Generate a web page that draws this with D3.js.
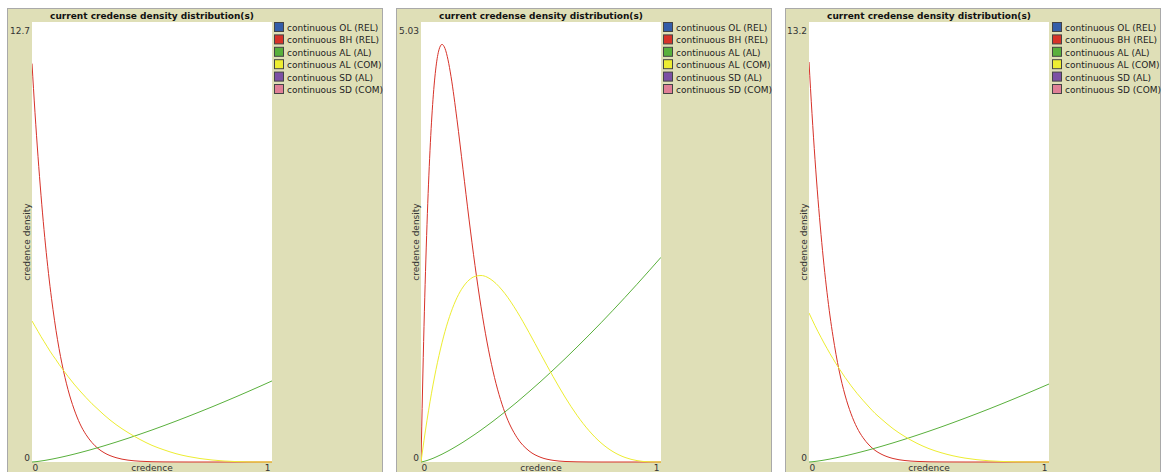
<!DOCTYPE html>
<html>
<head>
<meta charset="utf-8">
<script src="https://cdn.jsdelivr.net/npm/d3@7"></script>
<style>
  html, body { margin: 0; padding: 0; background: #ffffff; }
  svg { display: block; font-family: "DejaVu Sans", sans-serif; }
</style>
</head>
<body>
<svg id="chart" width="1161" height="472"></svg>
<script>
// Shared credence grid (x values of every density curve)
const credence = [0, 0.0125, 0.025, 0.0375, 0.05, 0.0625, 0.075, 0.0875, 0.1, 0.1125, 0.125,
  0.15, 0.175, 0.2, 0.225, 0.25, 0.275, 0.3, 0.35, 0.4, 0.45, 0.5, 0.55, 0.6, 0.65, 0.7,
  0.75, 0.8, 0.85, 0.9, 0.95, 1];

// Legend entries
const seriesNames = ["continuous OL (REL)", "continuous BH (REL)", "continuous AL (AL)",
  "continuous AL (COM)", "continuous SD (AL)", "continuous SD (COM)"];
const seriesColors = ["#345da9", "#d73229", "#59b03c", "#eded31", "#7c50a4", "#e07f96"];

// Y-axis maxima shown on each plot
const yMaxima = [12.7, 5.03, 13.2];
const yMaxLabels = ["12.7", "5.03", "13.2"];
const xTickLabels = ["0", "1"];

// Plot 1 densities
const bhRel1 = [11.5, 10.08, 8.82, 7.70, 6.71, 5.84, 5.07, 4.40, 3.80, 3.28, 2.83, 2.09, 1.53,
  1.10, 0.79, 0.56, 0.39, 0.27, 0.125, 0.054, 0.022, 0.008, 0.003, 0.001, 0, 0, 0, 0, 0, 0, 0, 0];
const alAl1 = [0, 0.007, 0.017, 0.029, 0.042, 0.057, 0.073, 0.089, 0.107, 0.125, 0.144, 0.184,
  0.226, 0.271, 0.317, 0.365, 0.415, 0.466, 0.573, 0.685, 0.803, 0.924, 1.050, 1.180, 1.314,
  1.451, 1.591, 1.735, 1.882, 2.032, 2.185, 2.34];
const alCom1 = [4.07, 3.92, 3.77, 3.62, 3.48, 3.34, 3.20, 3.07, 2.95, 2.82, 2.70, 2.47, 2.25,
  2.05, 1.86, 1.68, 1.52, 1.36, 1.08, 0.85, 0.65, 0.48, 0.35, 0.24, 0.16, 0.10, 0.058, 0.029,
  0.012, 0.003, 0.0004, 0];

// Plot 2 densities
const bhRel2 = [0, 1.551, 2.717, 3.563, 4.147, 4.517, 4.714, 4.774, 4.727, 4.598, 4.408, 3.913,
  3.347, 2.777, 2.246, 1.774, 1.372, 1.039, 0.561, 0.279, 0.127, 0.052, 0.019, 0.006, 0.002,
  0.0005, 0, 0, 0, 0, 0, 0];
const alAl2 = [0, 0.007, 0.017, 0.029, 0.042, 0.057, 0.073, 0.089, 0.107, 0.125, 0.144, 0.184,
  0.226, 0.271, 0.317, 0.365, 0.415, 0.466, 0.573, 0.685, 0.803, 0.924, 1.050, 1.180, 1.314,
  1.451, 1.591, 1.735, 1.882, 2.032, 2.185, 2.34];
const alCom2 = [0, 0.248, 0.477, 0.688, 0.881, 1.058, 1.218, 1.363, 1.493, 1.609, 1.711, 1.879,
  2.000, 2.080, 2.122, 2.132, 2.114, 2.070, 1.924, 1.720, 1.481, 1.228, 0.978, 0.743, 0.534,
  0.358, 0.219, 0.118, 0.052, 0.016, 0.002, 0];

// Plot 3 densities
const bhRel3 = [12, 10.45, 9.08, 7.88, 6.83, 5.90, 5.09, 4.38, 3.77, 3.23, 2.76, 2.01, 1.45,
  1.03, 0.73, 0.51, 0.35, 0.24, 0.105, 0.044, 0.017, 0.006, 0.002, 0.0005, 0, 0, 0, 0, 0, 0, 0, 0];
const alAl3 = [0, 0.007, 0.017, 0.029, 0.042, 0.057, 0.073, 0.089, 0.107, 0.125, 0.144, 0.184,
  0.226, 0.271, 0.317, 0.365, 0.415, 0.466, 0.573, 0.685, 0.803, 0.924, 1.050, 1.180, 1.314,
  1.451, 1.591, 1.735, 1.882, 2.032, 2.185, 2.34];
const alCom3 = [4.47, 4.28, 4.09, 3.91, 3.74, 3.57, 3.41, 3.25, 3.10, 2.95, 2.81, 2.54, 2.29,
  2.06, 1.85, 1.65, 1.46, 1.30, 1.00, 0.76, 0.56, 0.40, 0.28, 0.186, 0.117, 0.069, 0.036,
  0.017, 0.006, 0.0015, 0, 0];

// Series per plot, in legend order (empty = nothing plotted)
const plots = [
  [[], bhRel1, alAl1, alCom1, [], []],
  [[], bhRel2, alAl2, alCom2, [], []],
  [[], bhRel3, alAl3, alCom3, [], []]
];

const svg = d3.select("#chart");
const panelLefts = [7, 396, 785];
const panelW = 375, panelTop = 8, panelH = 480;
const plotOffset = [25, 25, 24], plotW = 240, plotTop = 22, plotBottom = 462;

plots.forEach((series, i) => {
  const px = panelLefts[i];
  const g = svg.append("g");

  g.append("rect")
    .attr("x", px + 0.5).attr("y", panelTop + 0.5)
    .attr("width", panelW).attr("height", panelH)
    .attr("fill", "#dfdfb7").attr("stroke", "#a9a9a9");

  const left = px + plotOffset[i];
  const x = d3.scaleLinear().domain([0, 1]).range([left, left + plotW]);
  const y = d3.scaleLinear().domain([0, yMaxima[i]]).range([plotBottom, plotTop]);

  g.append("rect")
    .attr("x", left).attr("y", plotTop)
    .attr("width", plotW).attr("height", plotBottom - plotTop)
    .attr("fill", "#ffffff");

  // title
  g.append("text")
    .attr("x", left + plotW / 2).attr("y", 19)
    .attr("text-anchor", "middle")
    .attr("font-size", 9).attr("font-weight", "bold").attr("fill", "#111")
    .text("current credense density distribution(s)");

  // y axis (max and zero only)
  const yAxis = g.append("g")
    .attr("transform", `translate(${left},0)`)
    .call(d3.axisLeft(y).tickValues([0, yMaxima[i]])
      .tickFormat((d, k) => k === 0 ? "0" : yMaxLabels[i]).tickSize(0).tickPadding(2));
  yAxis.select(".domain").remove();
  yAxis.selectAll("text")
    .attr("font-size", 9).attr("font-family", "DejaVu Sans, sans-serif").attr("fill", "#333")
    .attr("dy", (d) => d === 0 ? "-2" : "11");

  // x axis (0 and 1 only)
  const xAxis = g.append("g")
    .attr("transform", `translate(0,${plotBottom})`)
    .call(d3.axisBottom(x).tickValues([0, 1])
      .tickFormat((d, k) => xTickLabels[k]).tickSize(0).tickPadding(0));
  xAxis.select(".domain").remove();
  xAxis.selectAll("text")
    .attr("font-size", 9).attr("font-family", "DejaVu Sans, sans-serif").attr("fill", "#333")
    .attr("y", 9).attr("dy", 0)
    .attr("text-anchor", (d) => d === 0 ? "start" : "end")
    .attr("dx", (d) => d === 0 ? "0" : "-2");

  g.append("text")
    .attr("x", left + plotW / 2).attr("y", plotBottom + 9)
    .attr("text-anchor", "middle").attr("font-size", 9).attr("fill", "#333")
    .text("credence");

  g.append("text")
    .attr("transform", `translate(${left - 2},${(plotTop + plotBottom) / 2}) rotate(-90)`)
    .attr("text-anchor", "middle").attr("font-size", 9).attr("fill", "#333")
    .text("credence density");

  // curves
  const clipId = "clip" + i;
  g.append("clipPath").attr("id", clipId)
    .append("rect").attr("x", left).attr("y", plotTop)
    .attr("width", plotW).attr("height", plotBottom - plotTop + 1);

  const line = d3.line()
    .x((d, k) => x(credence[k]))
    .y((d) => y(d))
    .curve(d3.curveMonotoneX);

  const curves = g.append("g").attr("clip-path", `url(#${clipId})`);
  series.forEach((vals, s) => {
    if (!vals.length) return;
    curves.append("path")
      .attr("d", line(vals))
      .attr("fill", "none")
      .attr("stroke", seriesColors[s])
      .attr("stroke-width", 1);
  });

  // legend
  const lg = g.append("g").attr("transform", `translate(${px + 267},22)`);
  seriesNames.forEach((name, s) => {
    const row = lg.append("g").attr("transform", `translate(0,${s * 12.4})`);
    row.append("rect")
      .attr("x", 0.5).attr("y", 0.5).attr("width", 9).attr("height", 9)
      .attr("fill", seriesColors[s]).attr("stroke", "#444");
    row.append("text")
      .attr("x", 13).attr("y", 9)
      .attr("font-size", 9).attr("fill", "#222")
      .text(name);
  });
});
</script>
</body>
</html>
